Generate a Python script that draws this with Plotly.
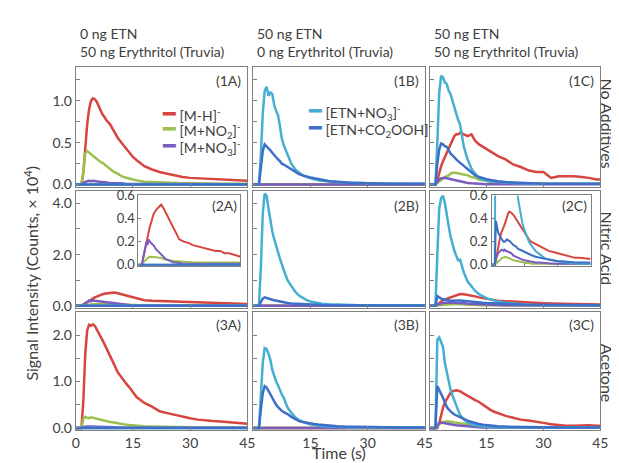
import plotly.graph_objects as go

W, H = 619, 463
FONT = "Lato, 'Open Sans', sans-serif"
TXT = "#404040"

# ---------------- data (Counts x 10^4) ----------------
TIME = [0, 1, 1.5, 2, 2.5, 3, 3.5, 4, 4.5, 5, 5.5, 6, 6.5, 7, 7.5, 8,
        9, 10, 11, 12, 13, 14, 15, 16, 17, 18,
        20, 22, 24, 26, 28, 30, 32, 34, 36, 38, 40, 42, 44, 45]
TIME_FLAT = [0, 45]
FLAT = [0, 0]

# Row 1: no additives
A1_MH = [0, 0, 0, .15, .45, .72, .9, 1.0, 1.03, 1.02, .99, .94, .88, .84, .81, .77,
         .72, .64, .56, .5, .44, .38, .33, .29, .25, .22,
         .18, .15, .13, .11, .09, .08, .075, .07, .06, .06, .05, .05, .045, .045]
A1_NO2 = [0, 0, 0, .15, .37, .40, .38, .36, .34, .33, .31, .29, .27, .26, .24, .23,
          .19, .15, .13, .10, .085, .07, .06, .05, .04, .035,
          .03, .025, .02, .02, .015, .015, .012, .01, .01, .01, .01, .01, .01, .01]
A1_NO3 = [0, 0, 0, .02, .035, .04, .045, .04, .045, .04, .04, .035, .03, .03, .025, .025,
          .02, .02, .015, .015, .01, .01, .01, .008, .008, .008,
          .005, .005, .005, .005, .005, .005, .005, .005, .005, .005, .005, .005, .005, .005]
B1_ETN_NO3 = [0, 0, 0, .35, .85, 1.12, 1.17, 1.06, 1.10, 1.08, .95, .88, .83, .70, .55, .47,
              .35, .25, .18, .14, .11, .09, .075, .065, .05, .045,
              .035, .03, .025, .02, .02, .015, .015, .012, .01, .01, .01, .01, .01, .01]
B1_ETN_CO2OOH = [0, 0, 0, .20, .40, .48, .46, .43, .41, .38, .35, .33, .30, .28, .25, .24,
                 .21, .18, .15, .125, .11, .095, .085, .075, .065, .055,
                 .04, .035, .025, .02, .02, .015, .012, .01, .01, .01, .01, .01, .01, .01]
C1_MH = [0, 0, 0, .05, .15, .22, .28, .33, .40, .44, .50, .55, .58, .60, .60, .62,
         .60, .58, .60, .52, .48, .45, .42, .39, .37, .34,
         .30, .24, .21, .17, .15, .15, .08, .10, .10, .10, .09, .08, .06, .06]
C1_NO2 = [0, 0, 0, .02, .04, .06, .08, .09, .10, .11, .13, .14, .14, .14, .135, .13,
          .12, .11, .09, .08, .06, .05, .04, .03, .025, .02,
          .015, .01, .01, .01, .01, .01, .01, .01, .01, .01, .01, .01, .01, .01]
C1_NO3 = [0, 0, 0, .03, .06, .075, .08, .08, .075, .07, .065, .06, .05, .045, .04, .035,
          .03, .02, .015, .01, .008, .006, .005, .005, .005, .005,
          .005, .005, .005, .005, .005, .005, .005, .005, .005, .005, .005, .005, .005, .005]
C1_ETN_NO3 = [0, 0, 0, .50, 1.10, 1.30, 1.28, 1.22, 1.20, 1.12, 1.08, 1.00, .92, .82, .77, .72,
              .45, .30, .19, .13, .08, .06, .045, .04, .035, .03,
              .025, .02, .015, .01, .01, .01, .01, .01, .01, .01, .01, .01, .01, .01]
C1_ETN_CO2OOH = [0, 0, 0, .25, .42, .49, .48, .46, .45, .41, .37, .35, .32, .30, .28, .26,
                 .22, .18, .14, .11, .09, .075, .065, .055, .045, .04,
                 .03, .025, .02, .02, .015, .01, .01, .01, .01, .01, .01, .01, .01, .01]

# Row 2: nitric acid
A2_MH = [0, 0, 0, .05, .10, .16, .21, .25, .29, .33, .36, .40, .43, .45, .47, .48,
         .50, .52, .49, .45, .41, .37, .33, .29, .26, .22,
         .20, .19, .17, .16, .15, .14, .13, .12, .12, .10, .10, .09, .08, .07]
A2_NO2 = [0, 0, 0, .02, .03, .04, .05, .06, .065, .07, .07, .07, .065, .07, .065, .065,
          .06, .06, .05, .045, .04, .035, .035, .03, .03, .03,
          .025, .025, .02, .02, .02, .02, .02, .02, .02, .02, .02, .02, .02, .02]
A2_NO3 = [0, 0, 0, .05, .10, .16, .20, .17, .22, .20, .19, .18, .17, .16, .14, .13,
          .11, .09, .07, .05, .04, .03, .025, .02, .02, .015,
          .01, .01, .01, .01, .01, .01, .01, .01, .01, .01, .01, .01, .01, .01]
B2_ETN_NO3 = [0, 0, 0, 1.5, 3.6, 4.38, 4.3, 3.8, 3.3, 2.9, 2.6, 2.3, 2.1, 1.85, 1.6, 1.4,
              1.0, .75, .55, .40, .30, .22, .17, .13, .10, .08,
              .06, .045, .035, .03, .025, .02, .015, .015, .01, .01, .01, .01, .01, .01]
B2_ETN_CO2OOH = [0, 0, 0, .15, .28, .33, .30, .28, .26, .24, .22, .20, .18, .16, .15, .13,
                 .11, .09, .08, .07, .06, .05, .045, .04, .035, .03,
                 .025, .02, .015, .015, .01, .01, .01, .01, .01, .01, .01, .01, .01, .01]
C2_MH = [0, 0, 0, .04, .10, .17, .22, .25, .28, .30, .32, .35, .38, .42, .44, .46,
         .45, .43, .40, .37, .33, .30, .27, .24, .22, .20,
         .18, .16, .14, .12, .11, .10, .09, .08, .07, .06, .06, .055, .055, .05]
C2_NO2 = [0, 0, 0, .01, .02, .03, .04, .05, .055, .06, .065, .065, .07, .065, .06, .055,
          .05, .04, .035, .03, .025, .02, .02, .015, .015, .01,
          .01, .01, .01, .01, .01, .01, .01, .01, .01, .01, .01, .01, .01, .01]
C2_NO3 = [0, 0, 0, .05, .08, .10, .11, .12, .13, .13, .12, .13, .12, .12, .11, .11,
          .10, .08, .07, .06, .05, .045, .04, .035, .03, .03,
          .02, .02, .015, .01, .01, .01, .01, .01, .01, .01, .01, .01, .01, .01]
C2_ETN_NO3 = [0, 0, 0, 2.0, 3.8, 4.2, 4.3, 4.0, 3.5, 3.1, 2.7, 2.4, 2.15, 1.95, 1.77, 1.80,
              1.30, .95, .75, .58, .45, .36, .30, .25, .20, .17,
              .12, .09, .06, .045, .035, .03, .025, .02, .015, .015, .01, .01, .01, .01]
C2_ETN_CO2OOH = [0, 0, 0, .38, .32, .28, .26, .24, .22, .21, .20, .20, .21, .22, .21, .21,
                 .19, .17, .16, .14, .13, .12, .11, .10, .09, .085,
                 .07, .06, .05, .045, .04, .03, .03, .025, .02, .02, .02, .02, .02, .02]

# Row 3: acetone
A3_MH = [0, 0, 0, .60, 1.60, 2.10, 2.22, 2.20, 2.23, 2.20, 2.13, 2.05, 1.97, 1.89, 1.81, 1.73,
         1.57, 1.38, 1.20, 1.08, .98, .88, .77, .66, .60, .54,
         .46, .36, .32, .28, .24, .21, .18, .16, .15, .14, .13, .11, .10, .09]
A3_NO2 = [0, 0, 0, .20, .24, .22, .21, .23, .22, .20, .19, .18, .17, .16, .155, .15,
          .13, .12, .10, .085, .075, .065, .055, .05, .04, .035,
          .03, .025, .02, .02, .015, .01, .01, .01, .01, .01, .01, .01, .01, .01]
A3_NO3 = [0, 0, 0, .02, .03, .03, .03, .03, .03, .03, .03, .028, .026, .025, .022, .02,
          .018, .015, .013, .01, .01, .01, .008, .008, .008, .008,
          .005, .005, .005, .005, .005, .005, .005, .005, .005, .005, .005, .005, .005, .005]
B3_ETN_NO3 = [0, 0, 0, .70, 1.40, 1.72, 1.70, 1.60, 1.46, 1.25, 1.10, 1.00, .92, .80, .72, .65,
              .44, .33, .23, .17, .13, .10, .08, .065, .05, .04,
              .03, .02, .015, .01, .01, .01, .01, .01, .01, .01, .01, .01, .01, .01]
B3_ETN_CO2OOH = [0, 0, 0, .40, .75, .90, .87, .80, .72, .64, .56, .50, .45, .40, .37, .34,
                 .30, .24, .19, .15, .13, .11, .10, .085, .075, .065,
                 .05, .04, .03, .025, .02, .015, .01, .01, .01, .01, .01, .01, .01, .01]
C3_MH = [0, 0, 0, 0, .10, .30, .44, .55, .63, .70, .76, .79, .80, .81, .80, .79,
         .74, .69, .65, .60, .56, .50, .44, .39, .35, .32,
         .26, .22, .18, .16, .14, .11, .08, .06, .05, .05, .06, .06, .05, .05]
C3_NO2 = [0, 0, 0, .04, .08, .11, .13, .14, .14, .14, .14, .13, .12, .12, .11, .10,
          .09, .075, .06, .05, .04, .03, .025, .02, .015, .01,
          .01, .01, .01, .01, .01, .01, .01, .01, .01, .01, .01, .01, .01, .01]
C3_NO3 = [0, 0, 0, .06, .11, .12, .11, .10, .09, .085, .08, .07, .065, .06, .055, .05,
          .04, .03, .025, .02, .015, .01, .008, .006, .005, .005,
          .005, .005, .005, .005, .005, .005, .005, .005, .005, .005, .005, .005, .005, .005]
C3_ETN_NO3 = [0, 0, 0, 1.90, 1.95, 1.85, 1.74, 1.39, 1.20, .98, .82, .70, .58, .48, .38, .28,
              .18, .12, .08, .06, .04, .03, .025, .02, .02, .015,
              .01, .01, .01, .01, .01, .01, .01, .01, .01, .01, .01, .01, .01, .01]
C3_ETN_CO2OOH = [0, 0, 0, .90, .82, .75, .65, .55, .45, .40, .35, .32, .29, .27, .25, .23,
                 .19, .16, .13, .10, .085, .07, .06, .05, .045, .04,
                 .03, .025, .02, .015, .015, .01, .01, .01, .01, .01, .01, .01, .01, .01]

COL_TITLES = [["0 ng ETN", "50 ng Erythritol (Truvia)"],
              ["50 ng ETN", "0 ng Erythritol (Truvia)"],
              ["50 ng ETN", "50 ng Erythritol (Truvia)"]]
ROW_TITLES = ["No Additives", "Nitric Acid", "Acetone"]
PANEL_TAGS = [["(1A)", "(1B)", "(1C)"], ["(2A)", "(2B)", "(2C)"], ["(3A)", "(3B)", "(3C)"]]
X_TICKS_FIRST = [0, 15, 30, 45]
X_TICKS_OTHER = [15, 30, 45]
X_MINOR_TICK = 15
Y_MAJOR_STEP = [0.5, 2.0, 1.0]
Y_MINOR_STEP = [0.25, 1.0, 0.5]
Y_MAX = [1.4, 4.5, 2.5]
INSET_TICKS = [0, .2, .4, .6]
INSET_TICKTEXT = ["0.0", "0.2", "0.4", "0.6"]

SPECIES = ["mh", "no2", "no3", "etn_no3", "etn_co2ooh"]
COLORS = {"mh": "#d6453f", "no2": "#9bc04f", "no3": "#7a5bbf",
          "etn_no3": "#45afd2", "etn_co2ooh": "#3d6fc6"}
LEG_A = [("mh", "[M-H]<sup>-</sup>"), ("no2", "[M+NO<sub>2</sub>]<sup>-</sup>"),
         ("no3", "[M+NO<sub>3</sub>]<sup>-</sup>")]
LEG_B = [("etn_no3", "[ETN+NO<sub>3</sub>]<sup>-</sup>"),
         ("etn_co2ooh", "[ETN+CO<sub>2</sub>OOH]<sup>-</sup>")]

PANELS = [
    [{"mh": A1_MH, "no2": A1_NO2, "no3": A1_NO3},
     {"etn_no3": B1_ETN_NO3, "etn_co2ooh": B1_ETN_CO2OOH},
     {"mh": C1_MH, "no2": C1_NO2, "no3": C1_NO3, "etn_no3": C1_ETN_NO3, "etn_co2ooh": C1_ETN_CO2OOH}],
    [{"mh": A2_MH, "no2": A2_NO2, "no3": A2_NO3},
     {"etn_no3": B2_ETN_NO3, "etn_co2ooh": B2_ETN_CO2OOH},
     {"mh": C2_MH, "no2": C2_NO2, "no3": C2_NO3, "etn_no3": C2_ETN_NO3, "etn_co2ooh": C2_ETN_CO2OOH}],
    [{"mh": A3_MH, "no2": A3_NO2, "no3": A3_NO3},
     {"etn_no3": B3_ETN_NO3, "etn_co2ooh": B3_ETN_CO2OOH},
     {"mh": C3_MH, "no2": C3_NO2, "no3": C3_NO3, "etn_no3": C3_ETN_NO3, "etn_co2ooh": C3_ETN_CO2OOH}],
]

# ---------------- layout geometry (pixels) ----------------
COLS_PX = [(65, 240), (246, 421), (426, 600)]
ROWS_PX = [(53, 176), (180, 301), (305, 427)]
INSETS = {(1, 0): ((129, 233), (185, 258), 10), (1, 2): ((489, 590), (185, 258), 11)}


def xdom(a, b):
    return [a / W, b / W]


def ydom(top, bot):
    return [1 - bot / H, 1 - top / H]


def px(x):
    return x / W


def py(y):
    return 1 - y / H


fig = go.Figure()
layout = {}

LINE_C = "#7f7f7f"
axis_common = dict(showline=True, mirror=True, linecolor=LINE_C, linewidth=1,
                   ticks="inside", ticklen=4, tickcolor=LINE_C, showgrid=False,
                   zeroline=False, tickfont=dict(family=FONT, size=14, color=TXT),
                   fixedrange=True)


def add_series(panel, xa, ya, width):
    for sp in SPECIES:
        vals = panel.get(sp)
        if vals is None:
            xs, ys = TIME_FLAT, FLAT
        else:
            xs, ys = TIME, vals
        fig.add_trace(go.Scatter(x=xs, y=ys, mode="lines", xaxis=xa, yaxis=ya,
                                 line=dict(color=COLORS[sp], width=width),
                                 showlegend=False, hoverinfo="skip"))


for r in range(3):
    for c in range(3):
        k = r * 3 + c + 1
        xa = "x" if k == 1 else f"x{k}"
        ya = "y" if k == 1 else f"y{k}"
        add_series(PANELS[r][c], xa, ya, 2.5)
        ymax = Y_MAX[r]
        xt = X_TICKS_FIRST if c == 0 else X_TICKS_OTHER
        layout["xaxis" if k == 1 else f"xaxis{k}"] = dict(
            axis_common, domain=xdom(*COLS_PX[c]), anchor=ya, range=[0, 45],
            tickvals=xt, ticktext=[str(v) for v in xt],
            showticklabels=(r == 2))
        layout["yaxis" if k == 1 else f"yaxis{k}"] = dict(
            axis_common, domain=ydom(*ROWS_PX[r]), anchor=xa,
            range=[-0.018 * ymax, ymax], tick0=0, dtick=Y_MAJOR_STEP[r],
            tickformat=".1f", showticklabels=(c == 0),
            minor=dict(tick0=0, dtick=Y_MINOR_STEP[r], ticks="inside", ticklen=4,
                       tickcolor=LINE_C, showgrid=False))

for (r, c), (xr, yr, k) in INSETS.items():
    xa, ya = f"x{k}", f"y{k}"
    add_series(PANELS[r][c], xa, ya, 2)
    layout[f"xaxis{k}"] = dict(axis_common, domain=xdom(*xr), anchor=ya, range=[0, 45],
                               tick0=0, dtick=X_MINOR_TICK, showticklabels=False, ticklen=3)
    layout[f"yaxis{k}"] = dict(axis_common, domain=ydom(*yr), anchor=xa,
                               range=[-0.012, 0.6], tickvals=INSET_TICKS,
                               ticktext=INSET_TICKTEXT, ticklen=3,
                               tickfont=dict(family=FONT, size=13, color=TXT))

ann = []
# column titles
for c, (l1, l2) in enumerate(COL_TITLES):
    x0 = COLS_PX[c][0] + 2
    ann.append(dict(x=px(x0), y=py(18), text=l1, xanchor="left", yanchor="middle"))
    ann.append(dict(x=px(x0), y=py(37), text=l2, xanchor="left", yanchor="middle"))
# panel tags
for r in range(3):
    for c in range(3):
        right = COLS_PX[c][1] - 4
        yc = ROWS_PX[r][0] + 13
        if r == 1:
            yc = ROWS_PX[r][0] + 15
            if c == 0:
                right = 231
            if c == 2:
                right = 588
        ann.append(dict(x=px(right), y=py(yc), text=PANEL_TAGS[r][c],
                        xanchor="right", yanchor="middle"))
# row titles
for r, t in enumerate(ROW_TITLES):
    yc = [111, 240, 368][r]
    ann.append(dict(x=px(607), y=py(yc), text=t, textangle=90, xanchor="center",
                    yanchor="middle", font=dict(family=FONT, size=16, color=TXT)))
# axis titles
ann.append(dict(x=px(20), y=py(265), text="Signal Intensity (Counts, × 10<sup>4</sup>)",
                textangle=-90, xanchor="center", yanchor="middle",
                font=dict(family=FONT, size=16, color=TXT)))
ann.append(dict(x=px(333), y=py(450), text="Time (s)", xanchor="center", yanchor="middle",
                font=dict(family=FONT, size=16, color=TXT)))
# legend entries
for i, (sp, lab) in enumerate(LEG_A):
    ann.append(dict(x=px(151), y=py(99 + 17 * i),
                    text=f"<span style='color:{COLORS[sp]};font-size:21px'>━</span> {lab}",
                    xanchor="left", yanchor="middle"))
for i, (sp, lab) in enumerate(LEG_B):
    ann.append(dict(x=px(300), y=py(97 + 17 * i),
                    text=f"<span style='color:{COLORS[sp]};font-size:21px'>━</span> {lab}",
                    xanchor="left", yanchor="middle"))

for a in ann:
    a.setdefault("font", dict(family=FONT, size=14, color=TXT))
    a.update(xref="paper", yref="paper", showarrow=False)

fig.update_layout(width=W, height=H, margin=dict(l=0, r=0, t=0, b=0),
                  paper_bgcolor="white", plot_bgcolor="white",
                  annotations=ann, showlegend=False, **layout)
fig.write_html("out.html", config={"displayModeBar": False})
